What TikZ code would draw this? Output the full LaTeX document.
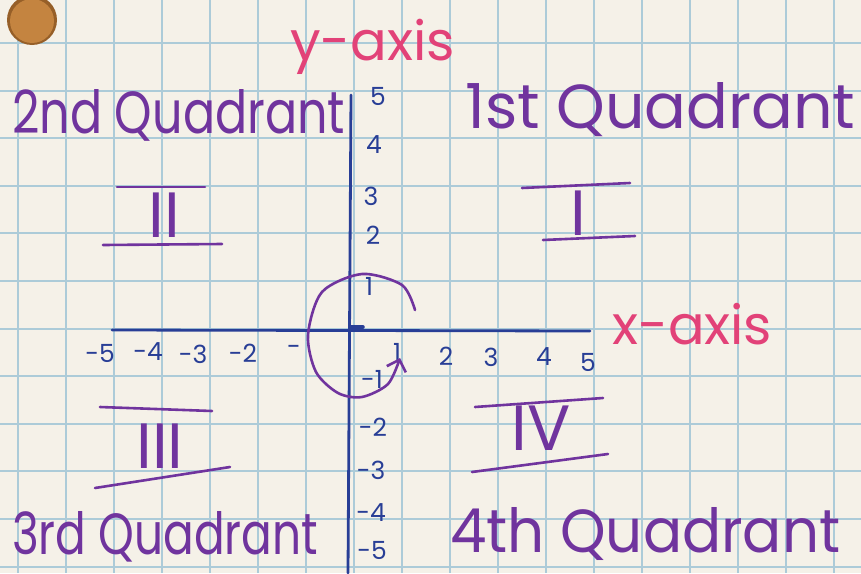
\documentclass[tikz,border=0pt]{standalone}
\usepackage{fontspec}
\setmainfont{Poppins}
\usetikzlibrary{arrows.meta}
\definecolor{paper}{RGB}{245,241,232}
\definecolor{gridblue}{RGB}{172,203,216}
\definecolor{axisblue}{RGB}{40,62,150}
\definecolor{penpurple}{RGB}{112,52,158}
\definecolor{penpink}{RGB}{226,66,120}
\definecolor{holebrown}{RGB}{196,132,64}
\definecolor{holedark}{RGB}{150,95,40}
\begin{document}
\begin{tikzpicture}[x=1pt,y=-1pt,
  gridline/.style={gridblue,line width=2pt},
  axisline/.style={axisblue,line width=2.8pt,line cap=round},
  penline/.style={penpurple,line width=2.6pt,line cap=round},
  num/.style={text=axisblue,inner sep=0pt,font=\fontsize{25}{25}\selectfont},
  roman/.style={text=penpurple,inner sep=0pt,font=\fontsize{64}{64}\selectfont},
  quad/.style={text=penpurple,inner sep=0pt,anchor=base west},
  quadlow/.style={text=penpurple,inner sep=0pt,anchor=south west},
  axlabel/.style={text=penpink,inner sep=0pt,anchor=base west}]
\useasboundingbox (0,0) rectangle (861,573);
\fill[paper] (0,0) rectangle (861,573);
% grid
\foreach \i in {0,...,17} \draw[gridline] ({18+48*\i},0) -- ({18+48*\i},573);
\foreach \j in {1,...,12} \draw[gridline] (0,{-4.6+47.6*\j}) -- (861,{-4.6+47.6*\j});
% hole punch
\fill[holedark] (32,20) circle[radius=25];
\fill[holebrown] (32,21) circle[radius=22];
% axes
\coordinate (ytop) at (351,95);
\coordinate (ybot) at (348,573);
\coordinate (xleft) at (112,330);
\coordinate (xright) at (590,331);
\coordinate (o1) at (350,327);
\coordinate (o2) at (363,327);
\draw[axisline] (ytop) -- (ybot);
\draw[axisline] (xleft) -- (xright);
\draw[axisline,line width=3.5pt] (o1) -- (o2);
% axis labels
\node[axlabel] (ylab) at (290,60) {\resizebox{165pt}{!}{y-axis}};
\node[axlabel] (xlab) at (612,344) {\resizebox{160pt}{!}{x-axis}};
% x numbers
\node[num] (xm5) at (100,353) {-5};
\node[num] (xm4) at (148,352) {-4};
\node[num] (xm3) at (193,354) {-3};
\node[num] (xm2) at (243,353) {-2};
\node[num] (xm1) at (294,350) {-};
\node[num] (xp1) at (397,352) {1};
\node[num] (xp2) at (446,356) {2};
\node[num] (xp3) at (491,357) {3};
\node[num] (xp4) at (544,357) {4};
\node[num] (xp5) at (588,362) {5};
% y numbers
\node[num] (yp5) at (378,96) {5};
\node[num] (yp4) at (374,145) {4};
\node[num] (yp3) at (371,196) {3};
\node[num] (yp2) at (373,235) {2};
\node[num] (yp1) at (369,286) {1};
\node[num] (ym1) at (372,379) {-1};
\node[num] (ym2) at (373,427) {-2};
\node[num] (ym3) at (371,470) {-3};
\node[num] (ym4) at (371,513) {-4};
\node[num] (ym5) at (372,550) {-5};
% quadrant titles
\node[quad] (q2) at (12,133) {\resizebox{333pt}{44pt}{2nd Quadrant}};
\node[quad] (q1) at (465,128) {\resizebox{390pt}{46pt}{1st Quadrant}};
\node[quadlow] (q3) at (12,562) {\resizebox{306pt}{43pt}{3rd Quadrant}};
\node[quadlow] (q4) at (450,561) {\resizebox{390pt}{45pt}{4th Quadrant}};
% roman numerals
\node[roman] (r2) at (164,215) {II};
\draw[penline] (117,187) -- (205,187);
\draw[penline] (103,245) -- (222,244);
\node[roman] (r1) at (578,213) {I};
\draw[penline] (522,188) -- (630,183);
\draw[penline] (543,240) -- (635,236);
\node[roman] (r3) at (160,446) {III};
\draw[penline] (100,407) -- (212,411);
\draw[penline] (95,488) -- (230,467);
\node[roman] (r4) at (541,428) {IV};
\draw[penline] (475,407) -- (603,398);
\draw[penline] (472,472) -- (608,454);
% rotation arrow
\draw[penline,-{Straight Barb[length=10pt,width=20pt]}] plot[smooth] coordinates {(415,310) (402,285) (362,274) (322,292) (308,335) (316,372) (338,393) (362,397) (388,384) (400,358)};
\end{tikzpicture}
\end{document}
